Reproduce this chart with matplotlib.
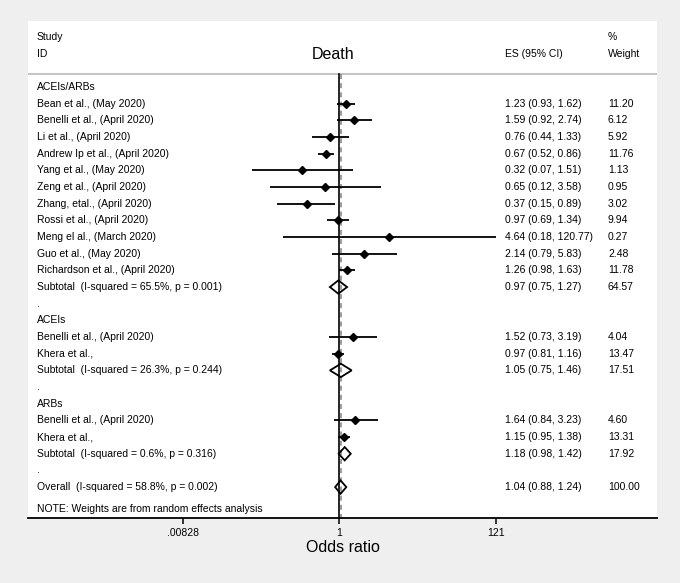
import numpy as np
import matplotlib
matplotlib.use('Agg')
from matplotlib import pyplot as plt
from matplotlib.patches import Polygon
from matplotlib.transforms import blended_transform_factory

plt.rcParams['font.family'] = ['Liberation Sans', 'DejaVu Sans']

# study rows: label, odds ratio, lower, upper, weight
study_labels = [
    'Bean et al., (May 2020)', 'Benelli et al., (April 2020)', 'Li et al., (April 2020)',
    'Andrew Ip et al., (April 2020)', 'Yang et al., (May 2020)', 'Zeng et al., (April 2020)',
    'Zhang, etal., (April 2020)', 'Rossi et al., (April 2020)', 'Meng el al., (March 2020)',
    'Guo et al., (May 2020)', 'Richardson et al., (April 2020)',
    'Benelli et al., (April 2020)', 'Khera et al.,',
    'Benelli et al., (April 2020)', 'Khera et al.,',
]
study_es = [1.23, 1.59, 0.76, 0.67, 0.32, 0.65, 0.37, 0.97, 4.64, 2.14, 1.26, 1.52, 0.97, 1.64, 1.15]
study_lo = [0.93, 0.92, 0.44, 0.52, 0.07, 0.12, 0.15, 0.69, 0.18, 0.79, 0.98, 0.73, 0.81, 0.84, 0.95]
study_hi = [1.62, 2.74, 1.33, 0.86, 1.51, 3.58, 0.89, 1.34, 120.77, 5.83, 1.63, 3.19, 1.16, 3.23, 1.38]
study_wt = [11.20, 6.12, 5.92, 11.76, 1.13, 0.95, 3.02, 9.94, 0.27, 2.48, 11.78, 4.04, 13.47, 4.60, 13.31]
study_rows = [1, 2, 3, 4, 5, 6, 7, 8, 9, 10, 11, 15, 16, 20, 21]

# pooled rows (subtotals and overall)
pool_labels = ['Subtotal  (I-squared = 65.5%, p = 0.001)', 'Subtotal  (I-squared = 26.3%, p = 0.244)',
               'Subtotal  (I-squared = 0.6%, p = 0.316)', 'Overall  (I-squared = 58.8%, p = 0.002)']
pool_es = [0.97, 1.05, 1.18, 1.04]
pool_lo = [0.75, 0.75, 0.98, 0.88]
pool_hi = [1.27, 1.46, 1.42, 1.24]
pool_wt = [64.57, 17.51, 17.92, 100.00]
pool_rows = [12, 17, 22, 24]

group_labels = ['ACEIs/ARBs', '.', 'ACEIs', '.', 'ARBs', '.']
group_rows = [0, 13, 14, 18, 19, 23]

tick_vals = [0.00828, 1, 121]
tick_text = ['.00828', '1', '121']

W, H = 680, 583
fig = plt.figure(figsize=(6.8, 5.83), dpi=100, facecolor='#efefef')
ax = fig.add_axes([28 / W, 1 - 518 / H, 629 / W, 497 / H])
ax.set_facecolor('white')

row_h = 16.67
def px_row(py):
    return (py - 87) / row_h

def px_frac(px):
    return (px - 28) / 629

ax.set_xlim((28 - 339.3) / 32.67, (657 - 339.3) / 32.67)
ax.set_ylim(px_row(518), px_row(21))
trans = blended_transform_factory(ax.transAxes, ax.transData)

fs = 7.5
col_id, col_es, col_wt = px_frac(37), px_frac(505), px_frac(608)

# header
ax.text(col_id, px_row(37), 'Study', transform=trans, fontsize=fs, va='center')
ax.text(col_id, px_row(54), 'ID', transform=trans, fontsize=fs, va='center')
ax.text(px_frac(333), px_row(54), 'Death', transform=trans, fontsize=11.5, va='center', ha='center')
ax.text(col_es, px_row(54), 'ES (95% CI)', transform=trans, fontsize=fs, va='center')
ax.text(col_wt, px_row(37), '%', transform=trans, fontsize=fs, va='center')
ax.text(col_wt, px_row(54), 'Weight', transform=trans, fontsize=fs, va='center')
sep = px_row(74)
ax.axhline(sep, color='#c4c4c4', lw=1.5)

# reference lines
ybot = px_row(518)
ax.plot([0, 0], [sep, ybot], color='black', lw=1.2, zorder=2)
ax.plot([np.log(pool_es[-1])] * 2, [sep, ybot], color='#8a8a8a', lw=1.2,
        ls=(0, (3, 2.5)), zorder=2)

for lab, r in zip(group_labels, group_rows):
    ax.text(col_id, r, lab, transform=trans, fontsize=fs, va='center')

for lab, es, lo, hi, wt, r in zip(study_labels, study_es, study_lo, study_hi, study_wt, study_rows):
    ax.plot([np.log(lo), np.log(hi)], [r, r], color='black', lw=1.3, solid_capstyle='butt', zorder=3)
    ax.plot(np.log(es), r, marker='D', color='black', markersize=3.6, zorder=4)
    ax.text(col_id, r, lab, transform=trans, fontsize=fs, va='center')
    ax.text(col_es, r, f'{es:.2f} ({lo:.2f}, {hi:.2f})', transform=trans, fontsize=fs, va='center')
    ax.text(col_wt, r, f'{wt:.2f}', transform=trans, fontsize=fs, va='center')

dh = 0.4
for lab, es, lo, hi, wt, r in zip(pool_labels, pool_es, pool_lo, pool_hi, pool_wt, pool_rows):
    pts = [(np.log(lo), r), (np.log(es), r - dh), (np.log(hi), r), (np.log(es), r + dh)]
    ax.add_patch(Polygon(pts, closed=True, fill=False, edgecolor='black', lw=1.3, zorder=4))
    ax.text(col_id, r, lab, transform=trans, fontsize=fs, va='center')
    ax.text(col_es, r, f'{es:.2f} ({lo:.2f}, {hi:.2f})', transform=trans, fontsize=fs, va='center')
    ax.text(col_wt, r, f'{wt:.2f}', transform=trans, fontsize=fs, va='center')

ax.text(col_id, px_row(509), 'NOTE: Weights are from random effects analysis',
        transform=trans, fontsize=fs, va='center')

# axis
for s in ['top', 'left', 'right']:
    ax.spines[s].set_visible(False)
ax.spines['bottom'].set_linewidth(1.3)
ax.set_yticks([])
ax.set_xticks(np.log(tick_vals), tick_text)
ax.tick_params(axis='x', length=4.5, width=1.1, labelsize=fs, pad=2.5)
ax.set_xlabel('Odds ratio', fontsize=11.5, labelpad=1.5)

fig.savefig('out.png', dpi=100, facecolor=fig.get_facecolor())
